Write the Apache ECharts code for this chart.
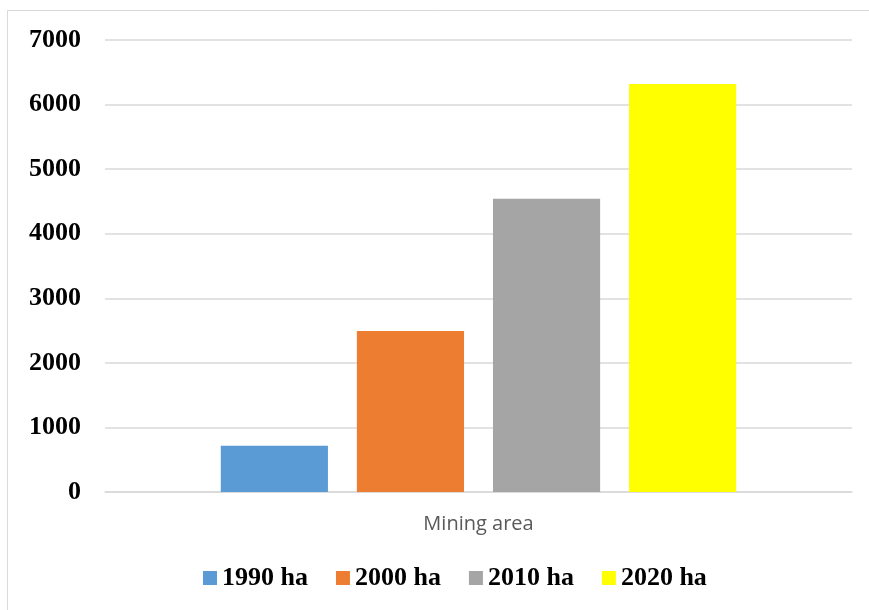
<!DOCTYPE html>
<html><head><meta charset="utf-8">
<script src="https://cdn.jsdelivr.net/npm/echarts@6/dist/echarts.min.js"></script>
<style>html,body{margin:0;padding:0;background:#fff}#c{width:869px;height:610px}</style>
</head><body><div id="c"></div>
<script>
const categories = ['Mining area'];
const seriesNames = ['1990 ha', '2000 ha', '2010 ha', '2020 ha'];
const values1990 = [715];
const values2000 = [2495];
const values2010 = [4540];
const values2020 = [6320];
const colors = ['#5b9bd5', '#ed7d31', '#a5a5a5', '#ffff00'];
const allValues = [values1990, values2000, values2010, values2020];

const chart = echarts.init(document.getElementById('c'), null, {renderer: 'canvas'});
chart.setOption({
  animation: false,
  backgroundColor: '#fff',
  graphic: [{type: 'rect', shape: {x: 7.5, y: 10.5, width: 870, height: 620}, style: {fill: 'none', stroke: '#d9d9d9', lineWidth: 1}, silent: true}],
  grid: {left: 105, right: 17, top: 40, bottom: 118},
  legend: {
    bottom: 14, left: 198,
    itemWidth: 14, itemHeight: 14, itemGap: 28, icon: 'rect',
    textStyle: {fontFamily: 'Liberation Serif', fontWeight: 'bold', fontSize: 26, color: '#000'},
    data: seriesNames
  },
  xAxis: {
    type: 'category', data: categories,
    axisLine: {lineStyle: {color: '#d9d9d9', width: 1.5}},
    axisTick: {show: false},
    axisLabel: {margin: 22, fontFamily: 'Open Sans', fontSize: 20, color: '#595959'}
  },
  yAxis: {
    type: 'value', min: 0, max: 7000, interval: 1000,
    axisLine: {show: false}, axisTick: {show: false},
    splitLine: {lineStyle: {color: '#d9d9d9', width: 1.5}},
    axisLabel: {margin: 24, fontFamily: 'Liberation Serif', fontWeight: 'bold', fontSize: 26, color: '#000', formatter: v => String(v)}
  },
  series: seriesNames.map((n, i) => ({
    name: n, type: 'bar', data: allValues[i],
    itemStyle: {color: colors[i]},
    barGap: '27%', barCategoryGap: '31%'
  }))
});
</script></body></html>
